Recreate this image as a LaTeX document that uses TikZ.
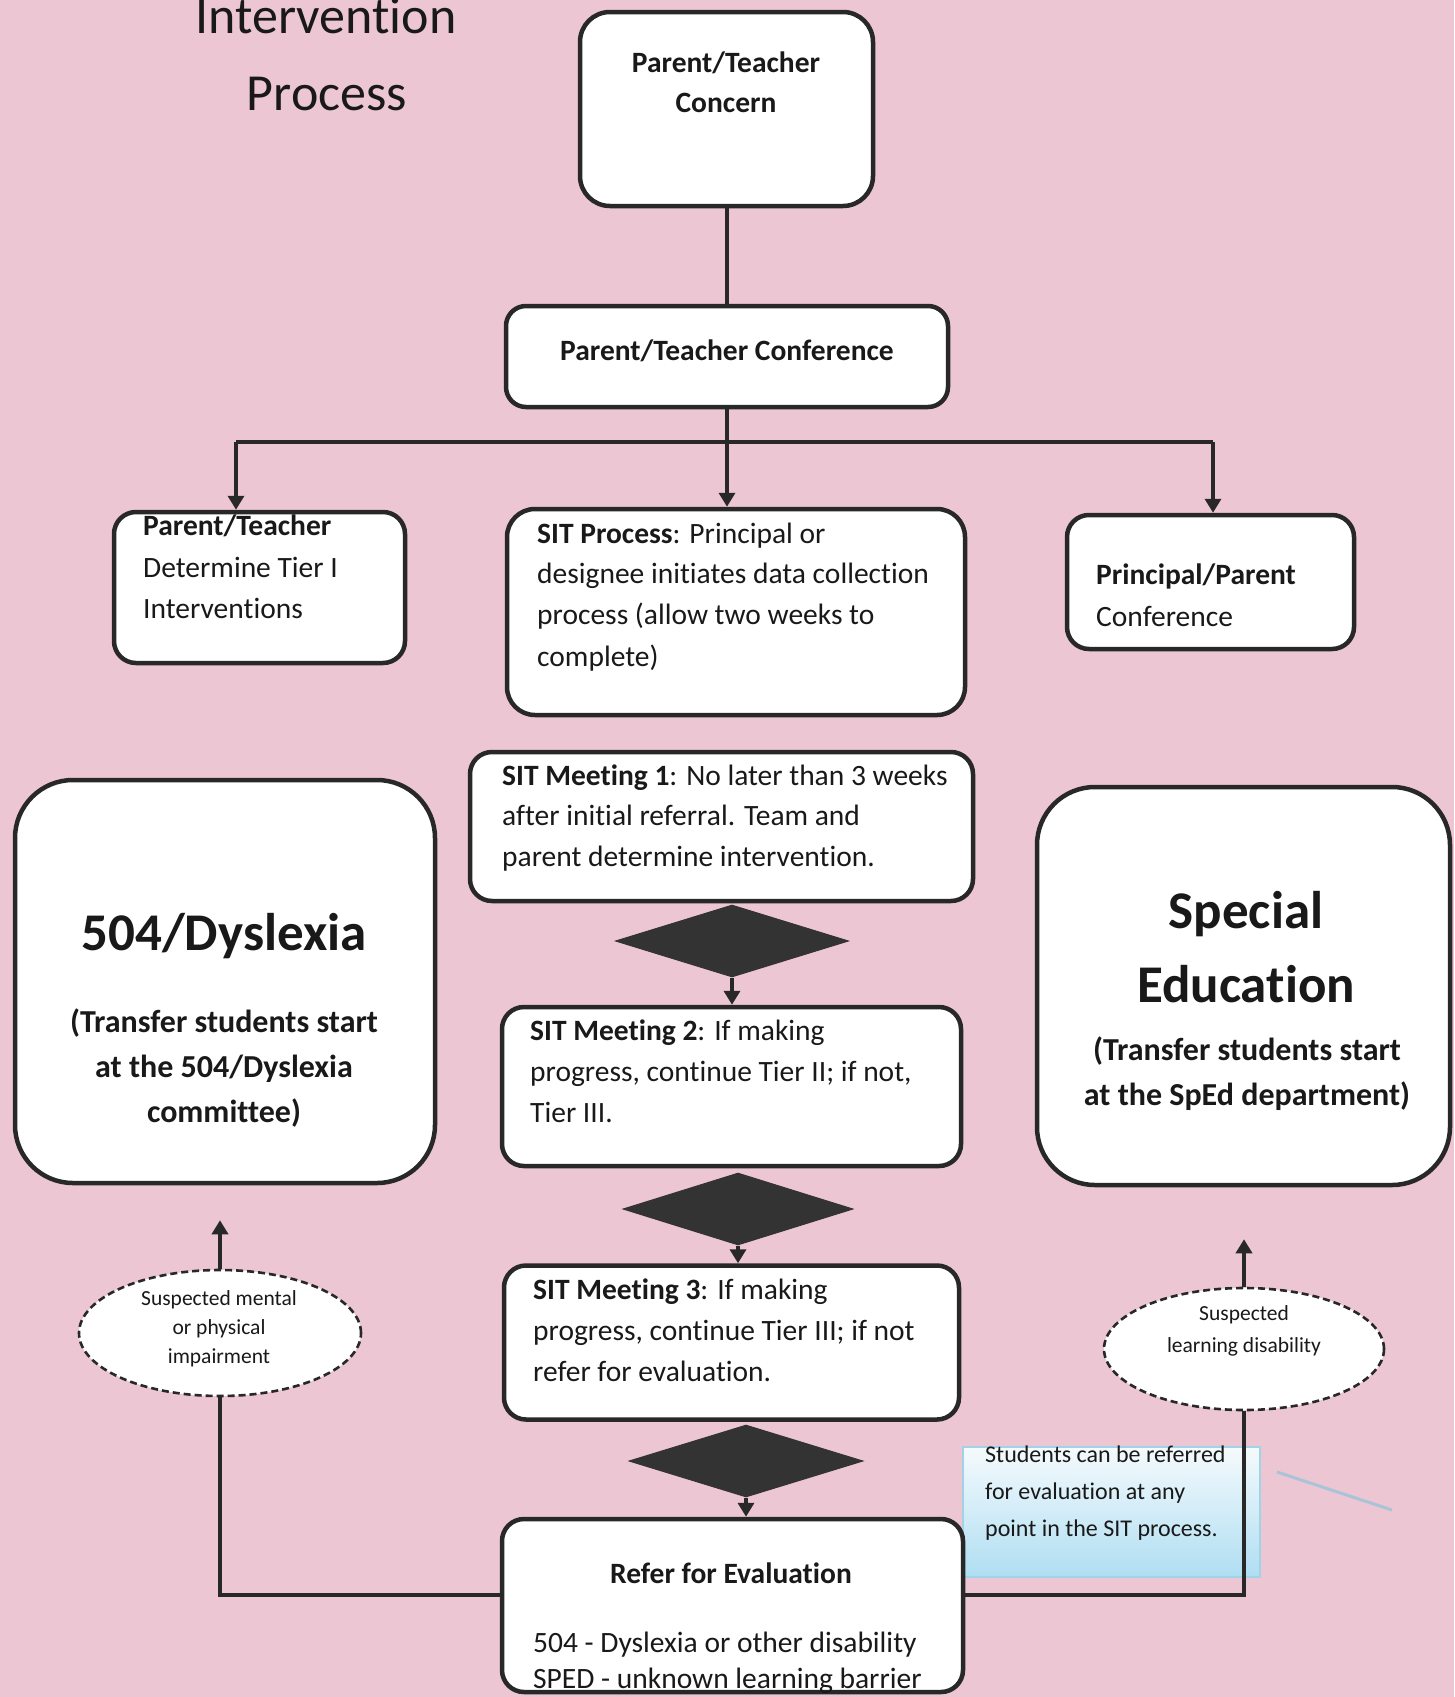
\documentclass[tikz,border=0pt]{standalone}
\usepackage{fontspec}
\setmainfont{Carlito}[Ligatures={NoCommon,NoRare,NoContextual},Contextuals=NoAlternate]
\usetikzlibrary{shapes.geometric,arrows.meta}
\definecolor{bgpink}{RGB}{236,198,210}
\definecolor{linec}{RGB}{40,40,40}
\definecolor{diac}{RGB}{51,51,51}
\definecolor{textc}{RGB}{25,25,25}
\definecolor{notetop}{RGB}{245,250,253}
\definecolor{notebot}{RGB}{175,222,242}
\definecolor{noteedge}{RGB}{160,210,232}
\definecolor{faintc}{RGB}{170,196,214}
\begin{document}
\begin{tikzpicture}[x=1pt,y=-1pt,
  box/.style={rectangle, draw=linec, line width=4.5pt, fill=white, rounded corners=#1, inner sep=0pt},
  box/.default=22pt,
  conn/.style={draw=linec, line width=4pt},
  arr/.style={conn, -{Triangle[width=16pt,length=14pt]}},
  dia/.style={diamond, fill=diac, draw=diac, line width=1pt, inner sep=0pt},
  ell/.style={ellipse, draw=linec, fill=white, line width=2.6pt, dash pattern=on 7pt off 4pt, inner sep=0pt},
  note/.style={rectangle, draw=noteedge, line width=1.5pt, top color=notetop, bottom color=notebot, inner sep=0pt},
  faint/.style={draw=faintc, line width=3pt},
  txt/.style={inner sep=0pt, text=textc, anchor=base west, font=\fontsize{29.5}{35}\selectfont},
  txtc/.style={txt, anchor=base},
  big/.style={txtc, font=\fontsize{53}{60}\selectfont\bfseries},
  sub/.style={txtc, font=\fontsize{32}{38}\selectfont\bfseries},
  small/.style={txtc, font=\fontsize{21.5}{26}\selectfont},
  notetxt/.style={txt, font=\fontsize{24}{29}\selectfont},
  title/.style={txtc, font=\fontsize{52}{60}\selectfont}
]
\useasboundingbox (0,0) rectangle (1454,1697);
\clip (0,0) rectangle (1454,1697);
\fill[bgpink] (0,0) rectangle (1454,1697);

% title
\node[title] (title1) at (326,33) {Intervention};
\node[title] (title2) at (327,110) {Process};

% callout note (under the connector)
\node[note, minimum width=297pt, minimum height=130pt] (note) at (1111.5,1512) {};
\coordinate (f1) at (1277,1472);
\coordinate (f2) at (1392,1510);
\draw[faint] (f1) -- (f2);

% boxes
\node[box=30pt, minimum width=293pt, minimum height=194pt] (concern) at (726.5,109) {};
\node[box=20pt, minimum width=442pt, minimum height=101pt] (conf) at (727,356.5) {};
\node[box, minimum width=291pt, minimum height=151pt] (tier1) at (259.5,587.5) {};
\node[box=28pt, minimum width=458pt, minimum height=206pt] (sitp) at (736,612) {};
\node[box, minimum width=287pt, minimum height=134pt] (ppc) at (1210.5,582) {};
\node[box, minimum width=503pt, minimum height=149pt] (sit1) at (721.5,826.5) {};
\node[box, minimum width=459pt, minimum height=159pt] (sit2) at (731.5,1086.5) {};
\node[box, minimum width=455pt, minimum height=154pt] (sit3) at (731.5,1342.5) {};
\node[box, minimum width=461pt, minimum height=173pt] (refer) at (732.5,1605.5) {};
\node[box=58pt, minimum width=420pt, minimum height=403pt] (b504) at (225,981.5) {};
\node[box=58pt, minimum width=413pt, minimum height=398pt] (bsped) at (1243.5,986) {};

% diamonds
\node[dia, minimum width=233pt, minimum height=72pt] (d1) at (732,941) {};
\node[dia, minimum width=230pt, minimum height=72pt] (d2) at (738,1209) {};
\node[dia, minimum width=234pt, minimum height=72pt] (d3) at (746,1461) {};

% ellipses
\node[ell, minimum width=282pt, minimum height=126pt] (e1) at (220,1333) {};
\node[ell, minimum width=280pt, minimum height=122pt] (e2) at (1244,1349) {};

% connectors
\coordinate (bl) at (236,442);
\coordinate (br) at (1213,442);
\coordinate (lj) at (220,1595);
\coordinate (rj) at (1244,1595);
\draw[conn] (concern.south) -- (concern.south |- conf.north);
\draw[arr] (conf.south) -- (conf.south |- sitp.north);
\draw[conn] (bl) -- (br);
\draw[arr] (bl) -- (bl |- tier1.north);
\draw[arr] (br) -- (br |- ppc.north);
\draw[arr] (d1.south) -- (d1.south |- sit2.north);
\draw[arr] (d2.south) -- (d2.south |- sit3.north);
\draw[arr] (d3.south) -- (d3.south |- refer.north);
\draw[conn] (lj -| refer.west) -- (lj) -- (e1.south);
\draw[conn] (rj -| refer.east) -- (rj) -- (e2.south);
\draw[arr, shorten >=35pt] (e1.north) -- (e1.north |- b504.south);
\draw[arr, shorten >=52pt] (e2.north) -- (e2.north |- bsped.south);

% texts
\node[txtc, font=\fontsize{29.5}{35}\selectfont\bfseries] (t1a) at (726,72) {Parent/Teacher};
\node[txtc, font=\fontsize{29.5}{35}\selectfont\bfseries] (t1b) at (726,112) {Concern};
\node[txtc, font=\fontsize{29.5}{35}\selectfont\bfseries] (t2) at (727,360) {Parent/Teacher Conference};

\node[txt] (t3a) at (143,535) {\textbf{Parent/Teacher}};
\node[txt] (t3b) at (143,577) {Determine Tier I};
\node[txt] (t3c) at (143,618) {Interventions};

\node[txt] (t4a) at (537,543) {\textbf{SIT Process}: Principal or};
\node[txt] (t4b) at (537,583) {designee initiates data collection};
\node[txt] (t4c) at (537,624) {process (allow two weeks to};
\node[txt] (t4d) at (537,666) {complete)};

\node[txt] (t5a) at (1096,584) {\textbf{Principal/Parent}};
\node[txt] (t5b) at (1096,626) {Conference};

\node[txt] (t6a) at (502,785) {\textbf{SIT Meeting 1}: No later than 3 weeks};
\node[txt] (t6b) at (502,825) {after initial referral. Team and};
\node[txt] (t6c) at (502,866) {parent determine intervention.};

\node[txt] (t7a) at (530,1040) {\textbf{SIT Meeting 2}: If making};
\node[txt] (t7b) at (530,1081) {progress, continue Tier II; if not,};
\node[txt] (t7c) at (530,1122) {Tier III.};

\node[txt] (t8a) at (533,1299) {\textbf{SIT Meeting 3}: If making};
\node[txt] (t8b) at (533,1340) {progress, continue Tier III; if not};
\node[txt] (t8c) at (533,1381) {refer for evaluation.};

\node[txtc, font=\fontsize{29.5}{35}\selectfont\bfseries] (t9a) at (731,1583) {Refer for Evaluation};
\node[txt] (t9b) at (533,1652) {504 - Dyslexia or other disability};
\node[txt] (t9c) at (533,1688) {SPED - unknown learning barrier};

\node[big] (t10a) at (224,950) {504/Dyslexia};
\node[sub] (t10b) at (224,1032) {(Transfer students start};
\node[sub] (t10c) at (224,1077) {at the 504/Dyslexia};
\node[sub] (t10d) at (224,1122) {committee)};

\node[big] (t11a) at (1246,928) {Special};
\node[big] (t11b) at (1246,1002) {Education};
\node[sub] (t11c) at (1247,1060) {(Transfer students start};
\node[sub] (t11d) at (1247,1105) {at the SpEd department)};

\node[small] (t12a) at (219,1305) {Suspected mental};
\node[small] (t12b) at (219,1334) {or physical};
\node[small] (t12c) at (219,1363) {impairment};

\node[small] (t13a) at (1244,1320) {Suspected};
\node[small] (t13b) at (1244,1352) {learning disability};

\node[notetxt] (t14a) at (985,1462) {Students can be referred};
\node[notetxt] (t14b) at (985,1499) {for evaluation at any};
\node[notetxt] (t14c) at (985,1536) {point in the SIT process.};
\end{tikzpicture}
\end{document}
